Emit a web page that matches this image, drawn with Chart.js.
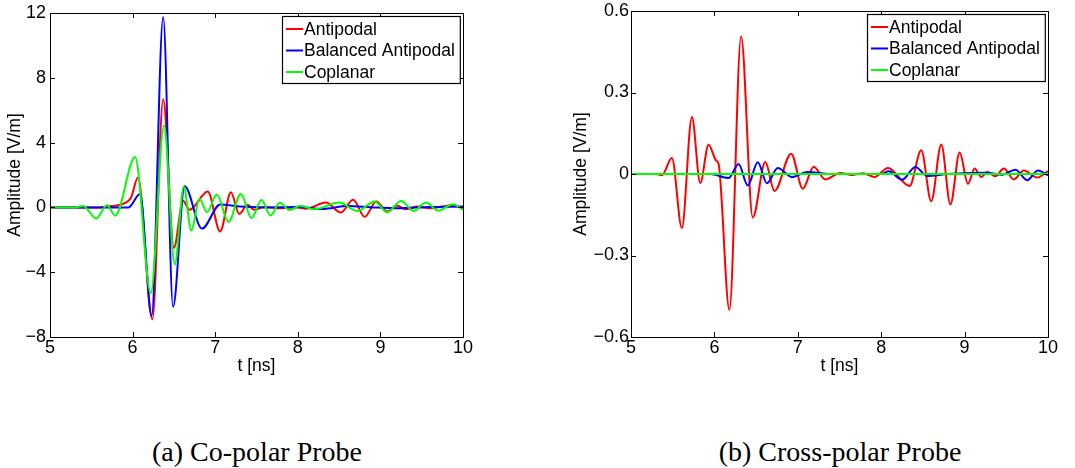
<!DOCTYPE html>
<html><head><meta charset="utf-8">
<script src="https://cdn.jsdelivr.net/npm/chart.js@4.4.0/dist/chart.umd.min.js"></script>
<style>
html,body{margin:0;padding:0;background:#fff;width:1075px;height:468px;overflow:hidden;}
.box{position:absolute;top:0;height:390px;}
#wa{left:0;width:537px;}
#wb{left:537px;width:538px;}
.cap{position:absolute;top:436px;font-family:"Liberation Serif","Times New Roman",serif;font-size:28px;line-height:32px;color:#000;white-space:nowrap;transform:translateX(-50%);}
</style></head><body>
<div class="box" id="wa"><canvas id="ca"></canvas></div>
<div class="box" id="wb"><canvas id="cb"></canvas></div>
<div class="cap" style="left:257px">(a) Co-polar Probe</div>
<div class="cap" style="left:840px">(b) Cross-polar Probe</div>
<script>
// ---- data ----
const seriesNames = ['Antipodal', 'Balanced Antipodal', 'Coplanar'];
const xTicks = [5, 6, 7, 8, 9, 10];
const yTicksCo = [-8, -4, 0, 4, 8, 12];
const yTicksCross = [-0.6, -0.3, 0, 0.3, 0.6];

// (a) Co-polar probe
const tCoAnti = [5.0, 5.6, 5.75, 5.9, 5.98, 6.065, 6.24, 6.37, 6.50, 6.61, 6.69, 6.91, 7.06, 7.19, 7.29, 7.39, 7.47, 7.6, 7.8, 8.0, 8.1, 8.34, 8.52, 8.67, 8.81, 8.95, 9.08, 9.2, 9.3, 9.45, 9.6, 9.75, 9.88, 10.0];
const vCoAnti = [0, 0, 0.08, 0.25, 0.6, 1.84, -6.9, 6.68, -2.5, 0.41, -0.14, 0.98, -1.48, 0.94, -0.41, 0.16, -0.14, 0.02, -0.05, 0.0, -0.08, 0.3, -0.32, 0.47, -0.58, 0.37, -0.25, 0.12, -0.12, 0.05, -0.05, 0.05, 0.15, -0.05];

const tCoBal = [5.0, 5.95, 6.09, 6.23, 6.37, 6.49, 6.63, 6.84, 7.06, 7.3, 7.6, 8.0, 8.3, 8.6, 8.9, 9.2, 9.6, 10.0];
const vCoBal = [0, 0, 0.82, -6.7, 11.76, -6.13, 1.31, -1.31, 0.18, 0.05, 0.0, 0.02, -0.1, 0.08, 0.0, -0.05, 0.03, 0.05];

const tCoCopl = [5.0, 5.3, 5.4, 5.56, 5.69, 5.79, 6.03, 6.22, 6.38, 6.51, 6.62, 6.71, 6.81, 6.90, 7.02, 7.16, 7.31, 7.44, 7.56, 7.67, 7.78, 7.90, 8.03, 8.2, 8.5, 8.72, 8.93, 9.08, 9.25, 9.4, 9.55, 9.7, 9.88, 10.0];
const vCoCopl = [0, 0, 0.08, -0.68, 0.14, -0.51, 3.11, -5.29, 5.06, -3.52, 1.27, -1.43, 0.53, -0.29, 0.8, -0.9, 0.82, -0.66, 0.45, -0.5, 0.28, -0.16, 0.1, -0.12, 0.3, -0.22, 0.37, -0.3, 0.4, -0.22, 0.3, -0.2, 0.2, -0.15];

// (b) Cross-polar probe
const tXAnti = [5.0, 5.3, 5.37, 5.49, 5.61, 5.73, 5.83, 5.93, 6.02, 6.05, 6.18, 6.32, 6.46, 6.61, 6.72, 6.92, 7.06, 7.19, 7.33, 7.51, 7.65, 7.78, 7.92, 8.08, 8.34, 8.48, 8.60, 8.72, 8.83, 8.94, 9.04, 9.12, 9.2, 9.27, 9.37, 9.47, 9.59, 9.71, 9.87, 10.0];
const vXAnti = [0, 0, -0.005, 0.059, -0.199, 0.21, -0.033, 0.108, 0.05, 0.038, -0.5, 0.507, -0.16, 0.044, -0.063, 0.075, -0.054, 0.027, -0.02, 0.004, -0.004, 0.003, -0.011, 0.022, -0.044, 0.087, -0.1, 0.109, -0.112, 0.079, -0.036, 0.02, -0.011, 0.007, -0.008, 0.02, -0.02, 0.013, -0.013, 0.011];

const tXBal = [5.0, 5.95, 6.17, 6.29, 6.4, 6.52, 6.63, 6.76, 6.93, 7.11, 7.4, 8.0, 8.09, 8.25, 8.41, 8.55, 8.8, 9.27, 9.45, 9.61, 9.75, 9.88, 10.0];
const vXBal = [0, 0, -0.015, 0.037, -0.042, 0.043, -0.034, 0.022, -0.011, 0.007, 0.0, 0.0, 0.01, -0.021, 0.026, -0.007, 0.0, 0.005, -0.003, 0.016, -0.023, 0.013, -0.005];

const tXCopl = [5.0, 10.0];
const vXCopl = [0, 0];

const seriesColors = ['#ff0000', '#0000ff', '#00ff00'];

// ---- drawing ----
const FONT = {family: '"Liberation Sans", Arial, Helvetica, sans-serif', size: 18, lineHeight: 1};
const TFONT = {family: '"Liberation Sans", Arial, Helvetica, sans-serif', size: 17.5, lineHeight: 1.2};
const fmt = v => String(Math.round(v * 10) / 10).replace('-', '\u2212');

const framePlugin = {
  id: 'frame',
  afterDatasetsDraw(chart) {
    const {ctx, chartArea: a, scales} = chart;
    ctx.save();
    ctx.strokeStyle = '#000';
    ctx.lineWidth = 1;
    const L = 5;
    ctx.beginPath();
    scales.x.ticks.forEach(t => {
      const px = Math.round(scales.x.getPixelForValue(t.value)) + 0.5;
      ctx.moveTo(px, a.bottom); ctx.lineTo(px, a.bottom - L);
      ctx.moveTo(px, a.top); ctx.lineTo(px, a.top + L);
    });
    scales.y.ticks.forEach(t => {
      const py = Math.round(scales.y.getPixelForValue(t.value)) + 0.5;
      ctx.moveTo(a.left, py); ctx.lineTo(a.left + L, py);
      ctx.moveTo(a.right, py); ctx.lineTo(a.right - L, py);
    });
    ctx.stroke();
    ctx.strokeRect(Math.round(a.left) + 0.5, Math.round(a.top) + 0.5, Math.round(a.right - a.left), Math.round(a.bottom - a.top));
    ctx.restore();
  },
  afterDraw(chart) {
    const {ctx, chartArea: a} = chart;
    const ds = chart.data.datasets;
    ctx.save();
    ctx.font = '17.5px "Liberation Sans", Arial, Helvetica, sans-serif';
    const tw = Math.max(...ds.map(d => ctx.measureText(d.label).width));
    const w = 4 + 17 + 2 + tw + 4, h = 67;
    const x0 = Math.round(a.right - 3 - w), y0 = Math.round(a.top + 3);
    ctx.fillStyle = '#fff';
    ctx.fillRect(x0, y0, w, h);
    ctx.strokeStyle = '#000';
    ctx.lineWidth = 1.2;
    ctx.strokeRect(x0 + 0.5, y0 + 0.5, w, h);
    ds.forEach((d, i) => {
      const cy = y0 + 13 + i * 21.5;
      ctx.strokeStyle = d.borderColor;
      ctx.lineWidth = 2;
      ctx.beginPath(); ctx.moveTo(x0 + 4, cy); ctx.lineTo(x0 + 21, cy); ctx.stroke();
      ctx.fillStyle = '#000';
      ctx.textBaseline = 'middle';
      ctx.textAlign = 'left';
      ctx.fillText(d.label, x0 + 22, cy + 1);
    });
    ctx.restore();
  }
};

function build(id, sets, yTicks, cfg) {
  return new Chart(document.getElementById(id), {
    type: 'line',
    data: {
      datasets: sets.map((s, i) => ({
        label: seriesNames[i],
        data: s.t.map((t, k) => ({x: t, y: s.v[k]})),
        borderColor: seriesColors[i],
        backgroundColor: seriesColors[i],
        borderWidth: 2,
        pointRadius: 0,
        cubicInterpolationMode: 'monotone',
        fill: false,
        order: 2 - i
      }))
    },
    options: {
      responsive: true, maintainAspectRatio: false, animation: false, events: [],
      layout: {padding: {top: 10, right: cfg.padRight, left: 0, bottom: 0}},
      plugins: {legend: {display: false}, tooltip: {enabled: false}},
      scales: {
        x: {
          type: 'linear', min: 5, max: 10,
          afterBuildTicks: s => { s.ticks = xTicks.map(v => ({value: v})); },
          afterFit: s => { s.height = 53; },
          grid: {display: false, drawTicks: false}, border: {display: false},
          ticks: {font: FONT, color: '#000', padding: 2, maxRotation: 0, autoSkip: false, callback: v => fmt(v)},
          title: {display: true, text: 't [ns]', font: TFONT, color: '#000', padding: {top: 0, bottom: 13}}
        },
        y: {
          type: 'linear', min: yTicks[0], max: yTicks[yTicks.length - 1],
          afterBuildTicks: s => { s.ticks = yTicks.map(v => ({value: v})); },
          afterFit: s => { s.width = cfg.yW; },
          grid: {display: false, drawTicks: false}, border: {display: false},
          ticks: {font: FONT, color: '#000', padding: cfg.tickPad, autoSkip: false, callback: v => fmt(v)},
          title: {display: true, text: 'Amplitude [V/m]', font: TFONT, color: '#000', padding: {top: cfg.titlePad, bottom: 0}}
        }
      }
    },
    plugins: [framePlugin]
  });
}

build('ca', [
  {t: tCoAnti, v: vCoAnti},
  {t: tCoBal, v: vCoBal},
  {t: tCoCopl, v: vCoCopl}
], yTicksCo, {padRight: 74, yW: 50, tickPad: 4, titlePad: 4.5});

build('cb', [
  {t: tXAnti, v: vXAnti},
  {t: tXBal, v: vXBal},
  {t: tXCopl, v: vXCopl}
], yTicksCross, {padRight: 27, yW: 94, tickPad: 2, titlePad: 34});
</script>
</body></html>
